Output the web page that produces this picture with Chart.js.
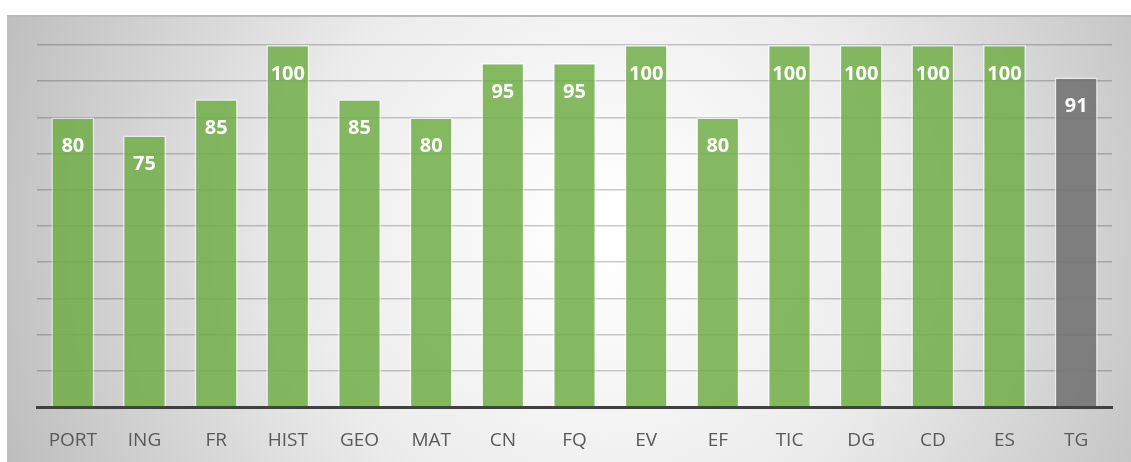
<!DOCTYPE html>
<html>
<head>
<meta charset="utf-8">
<script src="https://cdn.jsdelivr.net/npm/chart.js@4/dist/chart.umd.min.js"></script>
<style>
  html, body { margin: 0; padding: 0; background: #fff; overflow: hidden; }
</style>
</head>
<body>
<canvas id="notas" width="1131" height="462"></canvas>
<script>
var materias = ['PORT', 'ING', 'FR', 'HIST', 'GEO', 'MAT', 'CN', 'FQ', 'EV', 'EF', 'TIC', 'DG', 'CD', 'ES', 'TG'];
var notas = [80, 75, 85, 100, 85, 80, 95, 95, 100, 80, 100, 100, 100, 100, 91];

// last column (TG) is the overall grade, drawn grey
var cores = notas.map(function(v, i){
  return i == materias.length - 1 ? 'rgba(118,118,118,0.92)' : 'rgba(112,173,71,0.85)';
});

// gradient backdrop behind the whole chart
var fundo = {
  id: 'fundo',
  beforeDraw: function(chart){
    var ctx = chart.ctx;
    var w = chart.width, h = chart.height;
    ctx.save();
    var g = ctx.createRadialGradient(600, 230, 20, 600, 230, 640);
    g.addColorStop(0, '#ffffff');
    g.addColorStop(0.45, '#ececec');
    g.addColorStop(1, '#bdbdbd');
    ctx.fillStyle = g;
    ctx.fillRect(7, 15, w - 7, h - 15);
    ctx.fillStyle = '#bcbcbc';
    ctx.fillRect(7, 15, w - 7, 2);
    ctx.restore();
  }
};

// value written inside the top of each bar
var rotulos = {
  id: 'rotulos',
  afterDatasetsDraw: function(chart){
    var ctx = chart.ctx;
    var meta = chart.getDatasetMeta(0);
    ctx.save();
    ctx.fillStyle = '#ffffff';
    ctx.font = 'bold 20px "Open Sans"';
    ctx.textAlign = 'center';
    ctx.textBaseline = 'middle';
    meta.data.forEach(function(bar, i){
      ctx.fillText(notas[i], bar.x, bar.y + 29);
    });
    ctx.restore();
  }
};

new Chart(document.getElementById('notas'), {
  type: 'bar',
  data: {
    labels: materias,
    datasets: [{
      data: notas,
      backgroundColor: cores,
      borderColor: 'rgba(255,255,255,0.55)',
      borderWidth: 1.5,
      categoryPercentage: 1,
      barPercentage: 0.6
    }]
  },
  options: {
    responsive: false,
    animation: false,
    layout: { padding: { left: 37, right: 19, top: 45, bottom: 0 } },
    plugins: { legend: { display: false }, tooltip: { enabled: false } },
    scales: {
      x: {
        grid: { display: false },
        border: { display: true, color: '#404040', width: 3 },
        ticks: { color: '#595959', font: { family: 'Open Sans', size: 19 }, padding: 14, maxRotation: 0, autoSkip: false },
        afterFit: function(s){ s.height = 55; }
      },
      y: {
        min: 0,
        max: 100,
        ticks: { stepSize: 10, display: false },
        grid: { color: 'rgba(0,0,0,0.2)', lineWidth: 1.5, drawTicks: false },
        border: { display: false },
        afterFit: function(s){ s.width = 0; }
      }
    }
  },
  plugins: [fundo, rotulos]
});
</script>
</body>
</html>
